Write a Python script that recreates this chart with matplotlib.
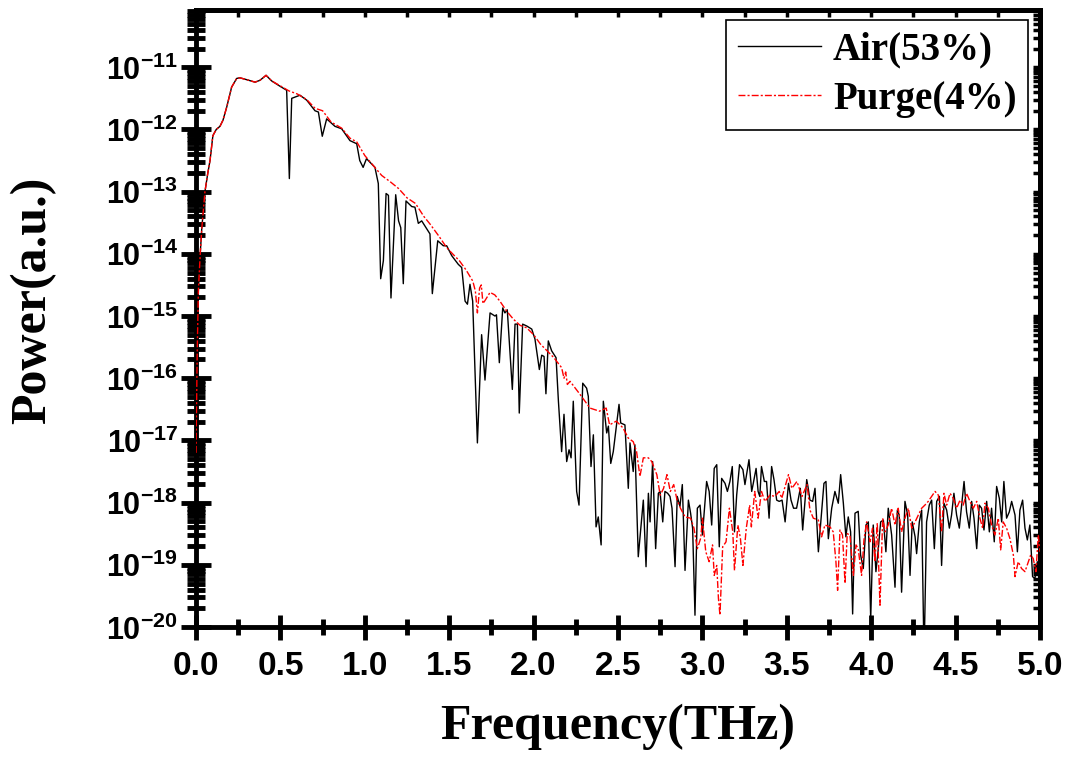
import numpy as np
import matplotlib
matplotlib.use("Agg")
import matplotlib.pyplot as plt
from matplotlib.ticker import (LogLocator, MultipleLocator, FormatStrFormatter,
                               NullFormatter, FuncFormatter, FixedLocator)

plt.rcParams["mathtext.fontset"] = "custom"
plt.rcParams["mathtext.bf"] = "Liberation Sans:bold"
plt.rcParams["mathtext.rm"] = "Liberation Sans:bold"

# frequency (THz) and log10(power)
air_f = [0.000, 0.007, 0.014, 0.025, 0.034, 0.053, 0.070, 0.083, 0.100, 0.120,
         0.142, 0.160, 0.182, 0.211, 0.241, 0.260, 0.300, 0.350, 0.379, 0.415,
         0.448, 0.500, 0.537, 0.553, 0.567, 0.616, 0.656, 0.705, 0.725, 0.748,
         0.774, 0.823, 0.863, 0.912, 0.952, 0.970, 0.990, 1.010, 1.060, 1.080,
         1.094, 1.110, 1.126, 1.140, 1.155, 1.183, 1.200, 1.213, 1.228, 1.244,
         1.278, 1.297, 1.317, 1.337, 1.386, 1.400, 1.432, 1.465, 1.485, 1.515,
         1.554, 1.574, 1.594, 1.608, 1.623, 1.639, 1.667, 1.692, 1.712, 1.742,
         1.771, 1.780, 1.797, 1.817, 1.830, 1.844, 1.874, 1.890, 1.904, 1.915,
         1.935, 1.959, 1.989, 2.008, 2.034, 2.048, 2.062, 2.073, 2.087, 2.107,
         2.133, 2.147, 2.166, 2.180, 2.196, 2.210, 2.222, 2.235, 2.255, 2.269,
         2.291, 2.314, 2.324, 2.340, 2.354, 2.370, 2.383, 2.400, 2.413, 2.433,
         2.443, 2.457, 2.472, 2.506, 2.516, 2.541, 2.561, 2.571, 2.590, 2.600,
         2.620, 2.650, 2.666, 2.680, 2.690, 2.705, 2.723, 2.739, 2.749, 2.765,
         2.778, 2.794, 2.808, 2.820, 2.838, 2.851, 2.867, 2.881, 2.897, 2.917,
         2.930, 2.942, 2.956, 2.970, 2.986, 3.000, 3.025, 3.040, 3.055, 3.070,
         3.085, 3.100, 3.114, 3.134, 3.148, 3.163, 3.177, 3.190, 3.203, 3.220,
         3.240, 3.252, 3.276, 3.292, 3.300, 3.318, 3.330, 3.340, 3.350, 3.367,
         3.380, 3.395, 3.410, 3.424, 3.440, 3.455, 3.472, 3.490, 3.510, 3.525,
         3.540, 3.558, 3.580, 3.594, 3.618, 3.627, 3.637, 3.653, 3.667, 3.687,
         3.706, 3.720, 3.732, 3.746, 3.766, 3.785, 3.805, 3.819, 3.835, 3.850,
         3.864, 3.878, 3.890, 3.904, 3.923, 3.937, 3.953, 3.969, 3.983, 3.997,
         4.012, 4.028, 4.042, 4.056, 4.072, 4.087, 4.101, 4.121, 4.141, 4.155,
         4.166, 4.180, 4.200, 4.216, 4.230, 4.243, 4.260, 4.269, 4.285, 4.299,
         4.313, 4.328, 4.344, 4.358, 4.374, 4.388, 4.404, 4.417, 4.431, 4.447,
         4.463, 4.476, 4.490, 4.506, 4.522, 4.536, 4.550, 4.565, 4.581, 4.595,
         4.609, 4.625, 4.640, 4.654, 4.668, 4.684, 4.700, 4.713, 4.729, 4.743,
         4.759, 4.773, 4.786, 4.802, 4.818, 4.832, 4.852, 4.866, 4.881, 4.897,
         4.911, 4.925, 4.940, 4.956, 4.970, 4.984, 5.000]
air_log = [-17.60, -15.60, -14.60, -14.00, -13.60, -13.00, -12.70, -12.50, -12.10, -12.00,
           -11.95, -11.85, -11.64, -11.32, -11.18, -11.17, -11.20, -11.24, -11.21, -11.13,
           -11.22, -11.31, -11.37, -12.79, -11.50, -11.45, -11.53, -11.70, -11.72, -12.11,
           -11.83, -11.95, -11.99, -12.18, -12.23, -12.50, -12.61, -12.47, -12.61, -12.87,
           -14.40, -14.11, -13.03, -13.06, -14.71, -13.05, -13.47, -13.58, -14.48, -13.15,
           -13.24, -13.25, -13.51, -13.47, -13.68, -14.64, -13.79, -13.87, -13.87, -14.03,
           -14.17, -14.22, -14.76, -14.81, -14.49, -14.76, -17.04, -15.30, -16.03, -14.95,
           -15.00, -14.98, -15.75, -14.87, -14.95, -14.90, -16.18, -15.13, -15.13, -16.56,
           -15.13, -15.16, -15.21, -15.37, -15.86, -15.63, -15.65, -16.25, -15.40, -15.56,
           -15.67, -16.37, -17.18, -16.58, -17.34, -17.15, -17.28, -16.37, -17.82, -18.04,
           -16.08, -16.16, -16.29, -17.42, -16.91, -18.39, -18.23, -18.68, -16.37, -16.88,
           -16.77, -17.37, -17.18, -16.42, -16.72, -16.75, -17.77, -17.04, -17.50, -17.07,
           -18.87, -17.96, -19.03, -17.85, -18.31, -17.34, -18.74, -17.85, -17.82, -18.31,
           -17.82, -17.85, -17.90, -18.09, -19.03, -17.90, -18.06, -17.71, -19.09, -17.96,
           -18.17, -18.41, -19.81, -18.09, -18.04, -18.52, -17.66, -17.82, -18.36, -17.45,
           -17.39, -18.71, -17.61, -17.69, -17.82, -17.66, -17.42, -18.47, -17.88, -17.39,
           -17.47, -17.71, -17.31, -17.82, -17.71, -17.45, -17.82, -17.90, -17.42, -17.66,
           -17.66, -18.25, -17.42, -17.63, -17.96, -17.98, -17.96, -18.31, -17.69, -17.96,
           -18.09, -18.09, -17.77, -18.44, -17.63, -17.77, -17.96, -17.98, -17.77, -18.79,
           -18.15, -17.69, -17.66, -18.58, -18.09, -17.82, -18.01, -17.55, -18.01, -18.55,
           -18.23, -18.47, -19.79, -18.17, -18.14, -18.84, -19.06, -18.36, -18.31, -19.87,
           -18.36, -19.11, -18.74, -18.31, -18.28, -18.79, -18.09, -18.52, -19.36, -18.12,
           -18.20, -19.44, -17.98, -18.20, -19.17, -18.31, -18.55, -18.82, -18.31, -18.12,
           -20.50, -18.31, -18.04, -17.96, -18.74, -17.98, -17.90, -19.01, -18.01, -18.12,
           -18.41, -18.20, -17.85, -18.20, -18.41, -18.04, -17.66, -18.15, -18.41, -17.98,
           -18.25, -18.74, -18.04, -18.09, -18.44, -17.98, -18.47, -18.09, -18.63, -17.74,
           -17.93, -18.31, -17.66, -18.25, -18.15, -17.98, -18.20, -18.79, -18.12, -17.96,
           -18.41, -18.60, -18.36, -19.19, -19.22, -18.95, -19.06]

purge_f = [0.000, 0.007, 0.014, 0.025, 0.034, 0.053, 0.070, 0.083, 0.100, 0.120,
           0.142, 0.160, 0.182, 0.211, 0.241, 0.260, 0.300, 0.350, 0.379, 0.415,
           0.448, 0.500, 0.550, 0.600, 0.656, 0.705, 0.750, 0.800, 0.863, 0.912,
           0.952, 1.000, 1.050, 1.100, 1.150, 1.200, 1.250, 1.300, 1.350, 1.386,
           1.440, 1.485, 1.520, 1.560, 1.600, 1.640, 1.655, 1.667, 1.680, 1.690,
           1.700, 1.710, 1.742, 1.770, 1.800, 1.840, 1.880, 1.920, 1.959, 2.000,
           2.040, 2.080, 2.120, 2.166, 2.180, 2.190, 2.200, 2.216, 2.275, 2.334,
           2.390, 2.430, 2.450, 2.490, 2.530, 2.560, 2.590, 2.610, 2.630, 2.650,
           2.680, 2.700, 2.730, 2.750, 2.770, 2.790, 2.810, 2.830, 2.850, 2.870,
           2.897, 2.930, 2.950, 2.970, 2.990, 3.000, 3.020, 3.040, 3.060, 3.070,
           3.085, 3.095, 3.104, 3.120, 3.140, 3.160, 3.180, 3.190, 3.210, 3.225,
           3.240, 3.260, 3.280, 3.290, 3.310, 3.330, 3.350, 3.370, 3.400, 3.430,
           3.455, 3.470, 3.510, 3.530, 3.560, 3.590, 3.620, 3.637, 3.657, 3.687,
           3.706, 3.726, 3.756, 3.775, 3.791, 3.801, 3.815, 3.830, 3.845, 3.858,
           3.874, 3.894, 3.910, 3.923, 3.943, 3.957, 3.973, 3.993, 4.008, 4.022,
           4.036, 4.052, 4.068, 4.082, 4.101, 4.121, 4.141, 4.160, 4.180, 4.200,
           4.220, 4.240, 4.260, 4.279, 4.299, 4.318, 4.338, 4.358, 4.378, 4.398,
           4.417, 4.431, 4.447, 4.467, 4.486, 4.506, 4.526, 4.545, 4.565, 4.585,
           4.605, 4.625, 4.644, 4.660, 4.674, 4.694, 4.713, 4.733, 4.753, 4.767,
           4.782, 4.802, 4.822, 4.842, 4.852, 4.871, 4.891, 4.911, 4.931, 4.945,
           4.960, 4.976, 4.990, 5.000]
purge_log = [-17.20, -15.60, -14.60, -14.00, -13.60, -13.00, -12.70, -12.50, -12.10, -12.00,
             -11.95, -11.85, -11.64, -11.32, -11.18, -11.17, -11.20, -11.24, -11.21, -11.13,
             -11.22, -11.30, -11.38, -11.43, -11.52, -11.66, -11.70, -11.88, -11.98, -12.14,
             -12.20, -12.42, -12.58, -12.74, -12.84, -12.95, -13.10, -13.19, -13.40, -13.52,
             -13.72, -13.90, -14.00, -14.11, -14.26, -14.44, -14.60, -14.95, -14.55, -14.50,
             -14.80, -14.76, -14.62, -14.66, -14.76, -14.92, -15.05, -15.15, -15.19, -15.30,
             -15.45, -15.56, -15.67, -15.83, -16.00, -15.90, -16.10, -16.05, -16.26, -16.48,
             -16.53, -16.48, -16.75, -16.69, -16.80, -16.96, -17.02, -17.18, -17.58, -17.28,
             -17.28, -17.34, -17.55, -17.88, -17.77, -17.55, -17.82, -17.71, -17.96, -18.09,
             -18.23, -18.25, -18.41, -18.74, -18.57, -18.25, -18.79, -18.95, -18.68, -19.17,
             -19.01, -19.54, -19.81, -18.71, -18.63, -18.09, -18.47, -19.09, -18.36, -18.57,
             -19.01, -18.41, -18.04, -18.39, -17.82, -18.25, -17.82, -17.98, -17.88, -17.90,
             -17.82, -17.93, -17.55, -17.77, -17.66, -17.90, -17.71, -18.12, -18.25, -18.28,
             -18.55, -18.36, -18.39, -18.47, -18.95, -19.41, -18.44, -18.52, -19.30, -18.50,
             -18.52, -19.17, -18.68, -18.74, -19.17, -18.60, -18.31, -18.63, -18.41, -18.95,
             -18.33, -19.65, -18.25, -18.47, -18.36, -18.09, -18.36, -18.09, -18.47, -18.25,
             -18.09, -18.41, -18.31, -18.20, -18.09, -18.04, -17.98, -17.90, -17.82, -17.88,
             -18.47, -17.85, -18.04, -17.85, -17.93, -18.09, -17.96, -18.04, -17.85, -17.98,
             -18.09, -17.98, -18.25, -18.41, -18.01, -18.09, -18.36, -18.52, -18.25, -18.76,
             -18.31, -18.41, -18.58, -18.84, -19.19, -18.95, -19.06, -19.11, -18.95, -18.84,
             -18.90, -19.11, -18.52, -18.79]

y_decades = [-20, -19, -18, -17, -16, -15, -14, -13, -12, -11]
legend_labels = ["Air(53%)", "Purge(4%)"]

fig = plt.figure(figsize=(10.67, 7.58), dpi=100)
ax = fig.add_axes([0.1837, 0.1728, 0.791, 0.814])

ax.plot(air_f, 10.0 ** np.array(air_log), color="black", lw=1.0, label=legend_labels[0], zorder=3)
ax.plot(purge_f, 10.0 ** np.array(purge_log), color="red", lw=1.0,
        ls=(0, (5, 1.5, 1.5, 1.5)), label=legend_labels[1], zorder=4)

ax.set_yscale("log")
ax.set_xlim(0, 5)
ax.set_ylim(1e-20, 10 ** -10.08)

ax.xaxis.set_major_locator(MultipleLocator(0.5))
ax.xaxis.set_minor_locator(MultipleLocator(0.25))
ax.xaxis.set_major_formatter(FormatStrFormatter("%.1f"))
ax.yaxis.set_major_locator(FixedLocator([10.0 ** d for d in y_decades]))
ax.yaxis.set_major_formatter(FuncFormatter(
    lambda v, p: r"$\mathbf{10^{%d}}$" % int(round(np.log10(v)))))
ax.yaxis.set_minor_locator(LogLocator(base=10, subs=np.arange(2, 10), numticks=20))
ax.yaxis.set_minor_formatter(NullFormatter())

for s in ax.spines.values():
    s.set_linewidth(3.5)

ax.tick_params(axis="y", which="major", direction="inout", length=22, width=3.5,
               labelsize=22, pad=2)
ax.tick_params(axis="y", which="minor", direction="inout", length=13, width=3.5)
ax.tick_params(axis="x", which="major", direction="inout", length=18, width=3.5,
               labelsize=24, pad=8)
ax.tick_params(axis="x", which="minor", direction="inout", length=11, width=3.5)
for lab in ax.get_xticklabels():
    lab.set_fontfamily("Liberation Sans")
    lab.set_fontweight("bold")

# small inward ticks on the top and right frame
top = ax.secondary_xaxis("top")
top.xaxis.set_major_locator(MultipleLocator(0.5))
top.xaxis.set_minor_locator(MultipleLocator(0.25))
top.tick_params(which="both", direction="in", length=5, width=2.5, labeltop=False)
top.spines["top"].set_linewidth(3.5)
right = ax.secondary_yaxis("right")
right.yaxis.set_major_locator(FixedLocator([10.0 ** d for d in y_decades]))
right.yaxis.set_minor_locator(LogLocator(base=10, subs=np.arange(2, 10), numticks=20))
right.tick_params(which="both", direction="in", length=5, width=2.5, labelright=False)
right.spines["right"].set_linewidth(3.5)

ax.set_xlabel("Frequency(THz)", fontsize=36, fontweight="bold", family="Liberation Serif", labelpad=16)
ax.set_ylabel("Power(a.u.)", fontsize=36, fontweight="bold", family="Liberation Serif")
ax.yaxis.set_label_coords(-0.165, 0.53)

leg = ax.legend(loc="upper right", bbox_to_anchor=(0.986, 0.984), borderaxespad=0,
                prop={"family": "Liberation Serif", "weight": "bold", "size": 28},
                fancybox=False, edgecolor="black", framealpha=1, handlelength=2.15,
                handletextpad=0.3, borderpad=0.3, labelspacing=0.32)
leg.get_frame().set_linewidth(1.2)

fig.savefig("out.png", dpi=100)
